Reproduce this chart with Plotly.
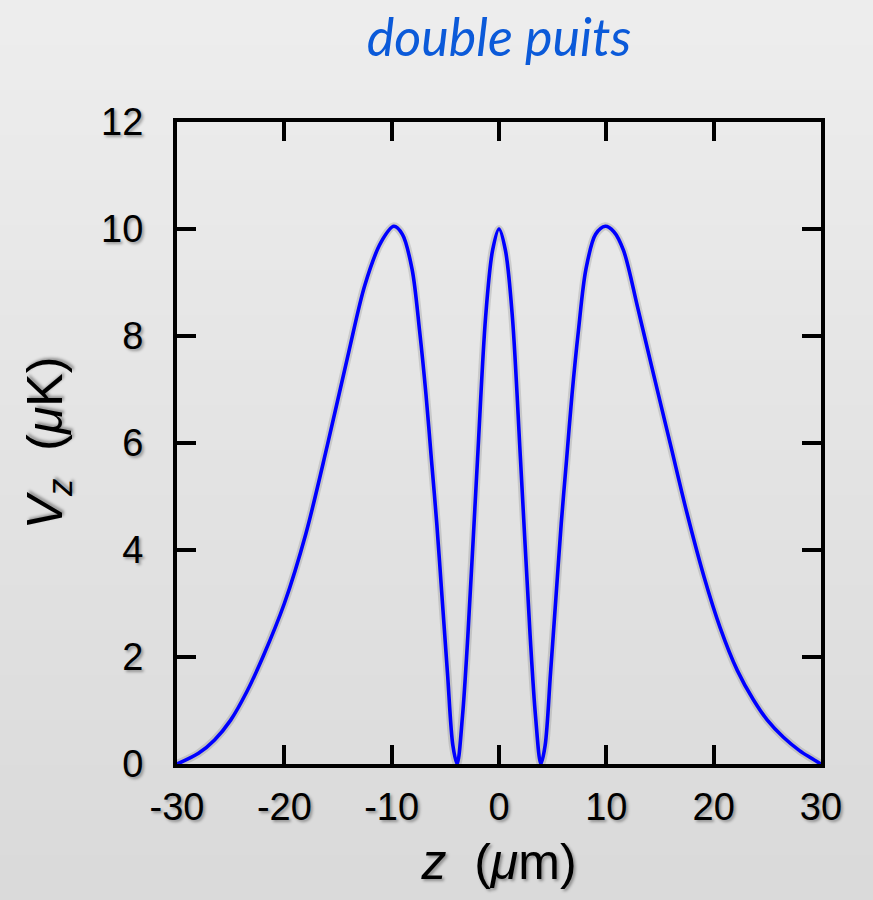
import plotly.graph_objects as go

# ---- data ----
z_um = [-30, -28, -26.5, -25, -23.5, -22, -20, -18, -16, -14, -12.5, -11, -9.8,
        -9.0, -8.1, -7.4, -6.8, -6.3, -5.8, -5.3, -4.8, -4.3, -3.9,
        -3.4, -2.9, -2.0, -1.25, -0.6, 0.0, 0.6, 1.25, 2.0, 2.9, 3.4,
        3.9, 4.3, 4.8, 5.3, 5.8, 6.3, 6.8, 7.4, 8.1, 9.0, 9.9,
        10.7, 11.6, 12.9, 14.2, 16.0, 17.5, 19.1, 20.6, 22.2, 23.7, 25.0, 26.5, 28.0, 29.0, 30]
v_uK = [0.0, 0.2, 0.45, 0.82, 1.35, 2.0, 3.0, 4.3, 5.95, 7.7, 8.95, 9.75, 10.05,
        9.9, 9.25, 8.1, 6.9, 5.7, 4.5, 3.1, 1.7, 0.35, 0.0,
        0.9, 2.4, 5.7, 8.35, 9.6, 10.0, 9.6, 8.35, 5.7, 2.4, 0.9,
        0.0, 0.35, 1.7, 3.1, 4.5, 5.7, 6.9, 8.1, 9.25, 9.9, 10.05,
        9.95, 9.6, 8.55, 7.45, 5.95, 4.7, 3.5, 2.55, 1.75, 1.2, 0.82, 0.5, 0.25, 0.12, 0.0]

x_ticks = [-30, -20, -10, 0, 10, 20, 30]
y_ticks = [0, 2, 4, 6, 8, 10, 12]
title_text = "double puits"

W, H = 873, 900
fig = go.Figure()

# soft shadow under the curve
fig.add_trace(go.Scatter(x=z_um, y=v_uK, mode="lines",
                         line=dict(color="rgba(0,0,0,0.12)", width=8, shape="spline", smoothing=0.9),
                         hoverinfo="skip", showlegend=False))
fig.add_trace(go.Scatter(x=z_um, y=v_uK, mode="lines",
                         line=dict(color="#0000ff", width=3.6, shape="spline", smoothing=0.9),
                         showlegend=False))

# vertical background gradient (light grey)
shapes = []
n = 40
top = (237, 237, 237)
bot = (218, 218, 218)
ml, mr, mt, mb = 177, 52, 122, 136
pw, ph = W - ml - mr, H - mt - mb
for i in range(n):
    t = i / (n - 1)
    c = tuple(int(round(top[k] + (bot[k] - top[k]) * t)) for k in range(3))
    y0_px = H * i / n
    y1_px = H * (i + 1) / n + 1
    y0 = (H - mb - y0_px) / ph
    y1 = (H - mb - y1_px) / ph
    shapes.append(dict(type="rect", xref="paper", yref="paper",
                       x0=-ml / pw, x1=(W - ml) / pw, y0=y1, y1=y0,
                       fillcolor="rgb(%d,%d,%d)" % c, line=dict(width=0), layer="below"))

shadow = "2px 2px 3px rgba(0,0,0,0.35)"
tickfont = dict(family="Liberation Sans", size=38, color="black", shadow=shadow)

fig.update_layout(
    width=W, height=H,
    margin=dict(l=ml, r=mr, t=mt, b=mb),
    paper_bgcolor="rgb(228,228,228)",
    plot_bgcolor="rgba(0,0,0,0)",
    shapes=shapes,
    title=dict(text="<i>" + title_text + "</i>", x=0.5, xref="paper", xanchor="center",
               y=0.978, yanchor="top",
               font=dict(family="Lato", size=52, color="#0b5ad9")),
    xaxis=dict(range=[-30, 30], tickvals=x_ticks, ticktext=[str(v) for v in x_ticks],
               showgrid=False, zeroline=False, showline=True, linecolor="black", linewidth=4,
               mirror="ticks", ticks="inside", ticklen=19, tickwidth=4, tickcolor="black",
               tickfont=tickfont, ticklabelstandoff=6,
               title=dict(text="<i>z</i>  (<i>μ</i>m)", standoff=18,
                          font=dict(family="Liberation Sans", size=50, color="black", shadow=shadow))),
    yaxis=dict(range=[0, 12], tickvals=y_ticks, ticktext=[str(v) for v in y_ticks],
               showgrid=False, zeroline=False, showline=True, linecolor="black", linewidth=4,
               mirror="ticks", ticks="inside", ticklen=19, tickwidth=4, tickcolor="black",
               tickfont=tickfont, ticklabelstandoff=22,
               title=dict(text="<i>V</i><sub><i>z</i></sub>  (<i>μ</i>K)", standoff=24,
                          font=dict(family="Liberation Sans", size=50, color="black", shadow=shadow))),
)

fig.write_html("out.html", config={"displayModeBar": False},
               post_script="document.body.style.margin='0';")
